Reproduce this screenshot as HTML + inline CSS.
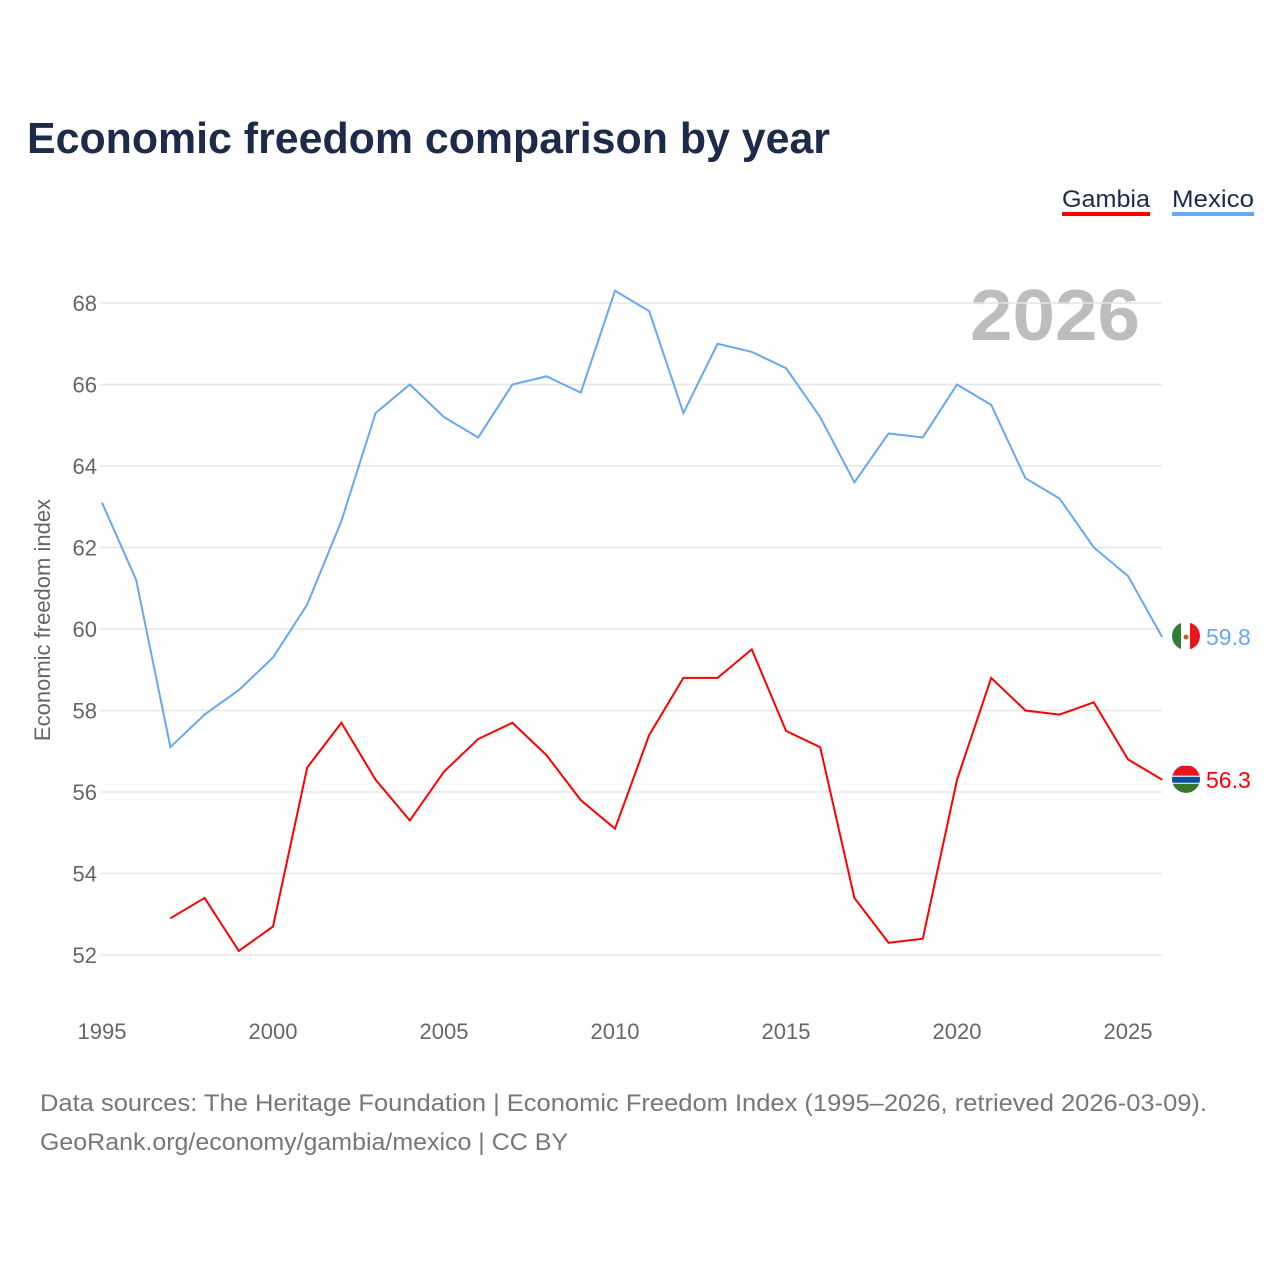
<!DOCTYPE html>
<html><head><meta charset="utf-8"><style>
body{margin:0;background:#fff;font-family:"Liberation Sans",sans-serif;}
svg text{font-family:"Liberation Sans",sans-serif;}
</style></head><body>
<svg id="chart" width="1280" height="1280" viewBox="0 0 1280 1280">
<rect width="1280" height="1280" fill="#fff"/>
<text x="27" y="153" font-size="44" font-weight="bold" fill="#1c2b4a" textLength="803" lengthAdjust="spacingAndGlyphs">Economic freedom comparison by year</text>
<g>
<text x="1062" y="207" font-size="24" fill="#1c2b4a" textLength="88" lengthAdjust="spacingAndGlyphs">Gambia</text>
<rect x="1062" y="212" width="88" height="4" fill="#ff0000"/>
<text x="1172" y="207" font-size="24" fill="#1c2b4a" textLength="82" lengthAdjust="spacingAndGlyphs">Mexico</text>
<rect x="1172" y="212" width="82" height="4" fill="#66a9ee"/>
</g>
<text x="1140" y="340" font-size="72" font-weight="bold" fill="#bdbdbd" text-anchor="end" textLength="170" lengthAdjust="spacingAndGlyphs">2026</text>
<defs>
<clipPath id="cm"><circle cx="1186" cy="636" r="14"/></clipPath>
<clipPath id="cg"><circle cx="1186" cy="779" r="14"/></clipPath>
</defs>
<g id="grid"></g><g id="axes"></g><g id="series"></g>
<text transform="translate(50,620) rotate(-90)" font-size="22" fill="#666" text-anchor="middle">Economic freedom index</text>
<text x="40" y="1111" font-size="24" fill="#777" textLength="1167" lengthAdjust="spacingAndGlyphs">Data sources: The Heritage Foundation | Economic Freedom Index (1995–2026, retrieved 2026-03-09).</text>
<text x="40" y="1150" font-size="24" fill="#777" textLength="528" lengthAdjust="spacingAndGlyphs">GeoRank.org/economy/gambia/mexico | CC BY</text>
</svg>
<script>
const years=[];for(let y=1995;y<=2026;y++)years.push(y);
const mexico=[63.1,61.2,57.1,57.9,58.5,59.3,60.6,62.65,65.3,66.0,65.2,64.7,66.0,66.2,65.8,68.3,67.8,65.3,67.0,66.8,66.4,65.2,63.6,64.8,64.7,66.0,65.5,63.7,63.2,62.0,61.3,59.8];
const gambia=[null,null,52.9,53.4,52.1,52.7,56.6,57.7,56.3,55.3,56.5,57.3,57.7,56.9,55.8,55.1,57.4,58.8,58.8,59.5,57.5,57.1,53.4,52.3,52.4,56.3,58.8,58.0,57.9,58.2,56.8,56.3];
const yTicks=[52,54,56,58,60,62,64,66,68];
const xTicks=[1995,2000,2005,2010,2015,2020,2025];
const NS="http://www.w3.org/2000/svg";
const xs=y=>102+(y-1995)*34.2;
const ys=v=>955-(v-52)*40.75;
function mk(t,a,p){const e=document.createElementNS(NS,t);for(const k in a)e.setAttribute(k,a[k]);p.appendChild(e);return e;}
const grid=document.getElementById('grid'),axes=document.getElementById('axes'),ser=document.getElementById('series');
yTicks.forEach(v=>{
const l=mk('line',{x1:100,x2:1162,y1:ys(v),y2:ys(v),stroke:'#e6e6e6','stroke-width':1.5},grid);


const t=mk('text',{x:97,y:ys(v)+8,'font-size':22,fill:'#666','text-anchor':'end'},axes);t.textContent=v;


});
xTicks.forEach(v=>{
const t=mk('text',{x:xs(v),y:1039,'font-size':22,fill:'#666','text-anchor':'middle'},axes);t.textContent=v;


});
function line(vals,color,name,flag){
let d='';vals.forEach((v,i)=>{if(v==null)return;d+=(d?'L':'M')+xs(years[i])+','+ys(v);});
const p=mk('path',{d:d,fill:'none',stroke:color,'stroke-width':2},ser);


const last=vals[vals.length-1];
const cy=ys(last);
const g=mk('g',{'clip-path':'url(#'+(name==='mexico'?'cm':'cg')+')'},ser);


flag(g,cy);
const t=mk('text',{x:1206,y:cy+8,'font-size':23,fill:color},ser);t.textContent=last.toFixed(1);


}
line(mexico,'#66a9ee','mexico',(g,cy)=>{
mk('rect',{x:1172,y:cy-14,width:10,height:28,fill:'#2e7d32'},g);
mk('rect',{x:1181,y:cy-14,width:10,height:28,fill:'#fff'},g);
mk('rect',{x:1190,y:cy-14,width:10,height:28,fill:'#e8141e'},g);
mk('circle',{cx:1186,cy:cy,r:2.5,fill:'#b5651d'},g);
});
line(gambia,'#ff0000','gambia',(g,cy)=>{
mk('rect',{x:1172,y:cy-14,width:28,height:10,fill:'#e8141e'},g);
mk('rect',{x:1172,y:cy-4,width:28,height:8,fill:'#fff'},g);
mk('rect',{x:1172,y:cy-3,width:28,height:6,fill:'#0c4ea2'},g);
mk('rect',{x:1172,y:cy+4,width:28,height:10,fill:'#3a7728'},g);
});
</script>
</body></html>
